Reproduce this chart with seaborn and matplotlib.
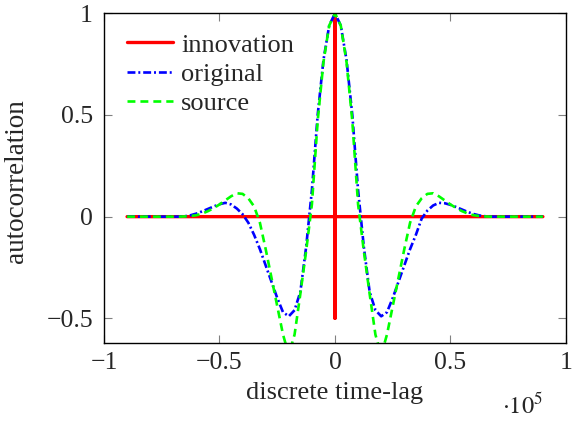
import matplotlib
matplotlib.use("Agg")
import matplotlib.pyplot as plt
import seaborn as sns
import numpy as np

sns.set_style("ticks")
plt.rcParams['font.family'] = ['Liberation Serif', 'DejaVu Serif']
plt.rcParams['mathtext.fontset'] = 'stix'

# lags (samples) for the two smooth autocorrelations, step 2500
lags = np.arange(-90000, 90001, 2500)

original = [0, 0, 0, 0, 0, 0, 0, 0, 0, 0,
            0.002, 0.007, 0.015, 0.026, 0.038, 0.050, 0.061, 0.068, 0.060, 0.040,
            0.012, -0.03, -0.09, -0.16, -0.24, -0.32, -0.40, -0.47, -0.49, -0.46,
            -0.37, -0.15, 0.13, 0.50, 0.77, 0.94,
            1.0,
            0.94, 0.77, 0.50, 0.13, -0.15, -0.37, -0.46, -0.49, -0.47, -0.40,
            -0.32, -0.24, -0.16, -0.09, -0.01, 0.03, 0.055, 0.068, 0.066, 0.058,
            0.047, 0.035, 0.023, 0.013, 0.006, 0.002,
            0, 0, 0, 0, 0, 0, 0, 0, 0, 0]

source = [0, 0, 0, 0, 0, 0, 0, 0, 0, 0,
          0.001, 0.003, 0.007, 0.015, 0.027, 0.042, 0.06, 0.08, 0.10, 0.115,
          0.112, 0.09, 0.05, -0.03, -0.16, -0.30, -0.44, -0.58, -0.68, -0.58,
          -0.38, -0.17, 0.06, 0.47, 0.76, 0.94,
          1.0,
          0.94, 0.76, 0.47, 0.06, -0.17, -0.38, -0.58, -0.68, -0.58, -0.44,
          -0.30, -0.16, -0.03, 0.05, 0.09, 0.112, 0.115, 0.10, 0.08, 0.06,
          0.042, 0.027, 0.015, 0.007, 0.003, 0.001,
          0, 0, 0, 0, 0, 0, 0, 0, 0, 0]

# innovation: white-ish, spike at lag 0 with -0.5 at lag +-1
innov_lags = [-90000, -2, -1, 0, 1, 2, 90000]
innovation = [0, 0, -0.5, 1, -0.5, 0, 0]

fig = plt.figure(figsize=(5.72, 4.23), dpi=100)
ax = fig.add_axes([0.1818, 0.1898, 0.8077, 0.7787])

sns.lineplot(x=innov_lags, y=innovation, ax=ax, color=(1, 0, 0), lw=2.4,
             label="innovation", estimator=None, sort=False)
sns.lineplot(x=lags, y=original, ax=ax, color=(0, 0, 1), lw=1.9,
             linestyle=(0, (3, 1.1, 0.75, 1.1)), label="original",
             estimator=None, sort=False)
sns.lineplot(x=lags, y=source, ax=ax, color=(0, 1, 0), lw=1.9,
             linestyle=(0, (3, 1.9)), label="source",
             estimator=None, sort=False)

ax.set_xlim(-1e5, 1e5)
ax.set_ylim(-0.62, 1.0)
ax.set_xticks([-1e5, -0.5e5, 0, 0.5e5, 1e5])
ax.set_xticklabels(["\u22121", "\u22120.5", "0", "0.5", "1"])
ax.set_yticks([-0.5, 0, 0.5, 1])
ax.set_yticklabels(["\u22120.5", "0", "0.5", "1"])
ax.tick_params(direction='in', length=6, width=0.8, color='0.5',
               top=True, right=True, labelsize=18.5)
ax.tick_params(axis='x', pad=7)
ax.tick_params(axis='y', pad=8)
for s in ax.spines.values():
    s.set_color('black')
    s.set_linewidth(1.0)

ax.set_xlabel("discrete time-lag", fontsize=19)
ax.set_ylabel("autocorrelation", fontsize=19.5)
ax.xaxis.set_label_coords(0.5, -0.12)
ax.yaxis.set_label_coords(-0.163, 0.491)
ax.text(0.905, -0.19, r"$\cdot 10^5$", transform=ax.transAxes,
        fontsize=17.5, ha='center', va='center')

ax.legend(loc='upper left', bbox_to_anchor=(0.05, 0.94), frameon=False,
          fontsize=19, handlelength=1.75, handletextpad=0.3,
          labelspacing=0.22, borderpad=0, borderaxespad=0)

fig.savefig("out.png", dpi=100)
